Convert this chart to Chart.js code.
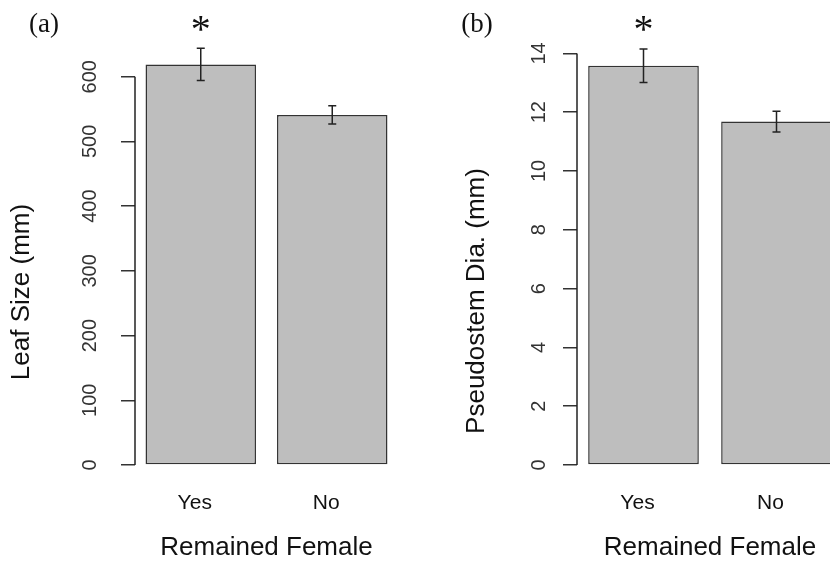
<!DOCTYPE html>
<html lang="en">
<head>
<meta charset="UTF-8">
<title>Remained Female</title>
<script src="https://cdn.jsdelivr.net/npm/chart.js@4.4.1/dist/chart.umd.min.js"></script>
<style>
  html, body { margin: 0; padding: 0; background: #fff; overflow: hidden; }
  #wrap { position: relative; width: 830px; height: 561px; overflow: hidden; }
  #leafChart { position: absolute; left: 0; top: 0; }
  #stemChart { position: absolute; left: 415px; top: 0; }
</style>
</head>
<body>
<div id="wrap">
  <canvas id="leafChart" width="415" height="561"></canvas>
  <canvas id="stemChart" width="460" height="561"></canvas>
</div>
<script>
// data
const groups = ['Yes', 'No'];
const leafSize = [619, 541];
const leafErr = [25, 14];
const leafTicks = [0, 100, 200, 300, 400, 500, 600];
const stemDia = [13.58, 11.68];
const stemErr = [0.57, 0.35];
const stemTicks = [0, 2, 4, 6, 8, 10, 12, 14];
const signif = ['*', ''];

const SANS = "'Liberation Sans', Arial, sans-serif";
const SERIF = "'Liberation Serif', 'Times New Roman', serif";

// error bars, short y axis line, panel letter, rotated y title, asterisks
const extras = {
  id: 'extras',
  afterDatasetsDraw(chart, args, opts) {
    const ctx = chart.ctx;
    const ys = chart.scales.y;
    const meta = chart.getDatasetMeta(0);
    const vals = chart.data.datasets[0].data;
    ctx.save();
    ctx.strokeStyle = '#222';
    ctx.lineWidth = 1.5;
    // axis line only between first and last tick, like R
    const t = ys.ticks;
    ctx.beginPath();
    ctx.moveTo(chart.chartArea.left, ys.getPixelForValue(t[0].value));
    ctx.lineTo(chart.chartArea.left, ys.getPixelForValue(t[t.length - 1].value));
    ctx.stroke();
    meta.data.forEach((bar, i) => {
      const top = ys.getPixelForValue(vals[i] + opts.err[i]);
      const bot = ys.getPixelForValue(vals[i] - opts.err[i]);
      ctx.beginPath();
      ctx.moveTo(bar.x, top); ctx.lineTo(bar.x, bot);
      ctx.moveTo(bar.x - 4, top); ctx.lineTo(bar.x + 4, top);
      ctx.moveTo(bar.x - 4, bot); ctx.lineTo(bar.x + 4, bot);
      ctx.stroke();
    });
    ctx.restore();
  },
  afterDraw(chart, args, opts) {
    const ctx = chart.ctx;
    const meta = chart.getDatasetMeta(0);
    ctx.save();
    ctx.fillStyle = '#111';
    ctx.textAlign = 'center';
    ctx.textBaseline = 'middle';
    ctx.font = '27px ' + SERIF;
    ctx.fillText(opts.tag, opts.tagPos[0], opts.tagPos[1]);

    ctx.font = '26px ' + SANS;
    ctx.save();
    ctx.translate(opts.yTitlePos[0], opts.yTitlePos[1]);
    ctx.rotate(-Math.PI / 2);
    ctx.fillText(opts.yTitle, 0, 0);
    ctx.restore();

    ctx.font = '40px ' + SERIF;
    ctx.textBaseline = 'alphabetic';
    meta.data.forEach((bar, i) => {
      if (signif[i]) ctx.fillText(signif[i], bar.x, opts.markY + 17);
    });
    ctx.restore();
  }
};

function panel(id, values, cfg) {
  return new Chart(document.getElementById(id), {
    type: 'bar',
    data: {
      labels: groups,
      datasets: [{
        data: values,
        backgroundColor: '#bebebe',
        borderColor: '#333',
        borderWidth: 1.5,
        borderSkipped: false,
        barPercentage: cfg.barPct,
        categoryPercentage: 1
      }]
    },
    options: {
      responsive: false,
      animation: false,
      layout: { padding: cfg.pad },
      plugins: {
        legend: { display: false },
        tooltip: { enabled: false },
        extras: cfg.extras
      },
      scales: {
        x: {
          grid: { display: false },
          border: { display: false },
          ticks: { color: '#111', font: { family: SANS, size: 21 }, padding: 18, labelOffset: -6 },
          title: {
            display: true, text: 'Remained Female', color: '#111', padding: 0,
            font: { family: SANS, size: 26, lineHeight: 1 }
          },
          afterFit: s => { s.height = 96; }
        },
        y: {
          min: 0,
          max: cfg.yMax,
          afterBuildTicks: s => { s.ticks = cfg.ticks.map(v => ({ value: v })); },
          afterFit: s => {
            s.width = cfg.yWidth;
            // top tick sits well below the top, no room needed for its label
            s.paddingTop = 0;
            s.paddingBottom = 0;
          },
          grid: { drawOnChartArea: false, drawTicks: true, tickLength: 14, color: '#333', lineWidth: 1.5 },
          border: { display: false },
          ticks: {
            minRotation: 90, maxRotation: 90, crossAlign: 'center',
            padding: cfg.tickPad, color: '#333',
            font: { family: SANS, size: 20 }
          }
        }
      }
    },
    plugins: [extras]
  });
}

panel('leafChart', leafSize, {
  ticks: leafTicks, yMax: 700, yWidth: 135, tickPad: 14, barPct: 0.84,
  pad: { top: 12, right: 17, bottom: 0, left: 0 },
  extras: { err: leafErr, tag: '(a)', tagPos: [44, 25], yTitle: 'Leaf Size (mm)', yTitlePos: [22, 292], markY: 25 }
});

panel('stemChart', stemDia, {
  ticks: stemTicks, yMax: 15, yWidth: 162, tickPad: 12, barPct: 0.832,
  pad: { top: 24, right: 32, bottom: 0, left: 0 },
  extras: { err: stemErr, tag: '(b)', tagPos: [62, 25], yTitle: 'Pseudostem Dia. (mm)', yTitlePos: [62, 301], markY: 25 }
});
</script>
</body>
</html>
